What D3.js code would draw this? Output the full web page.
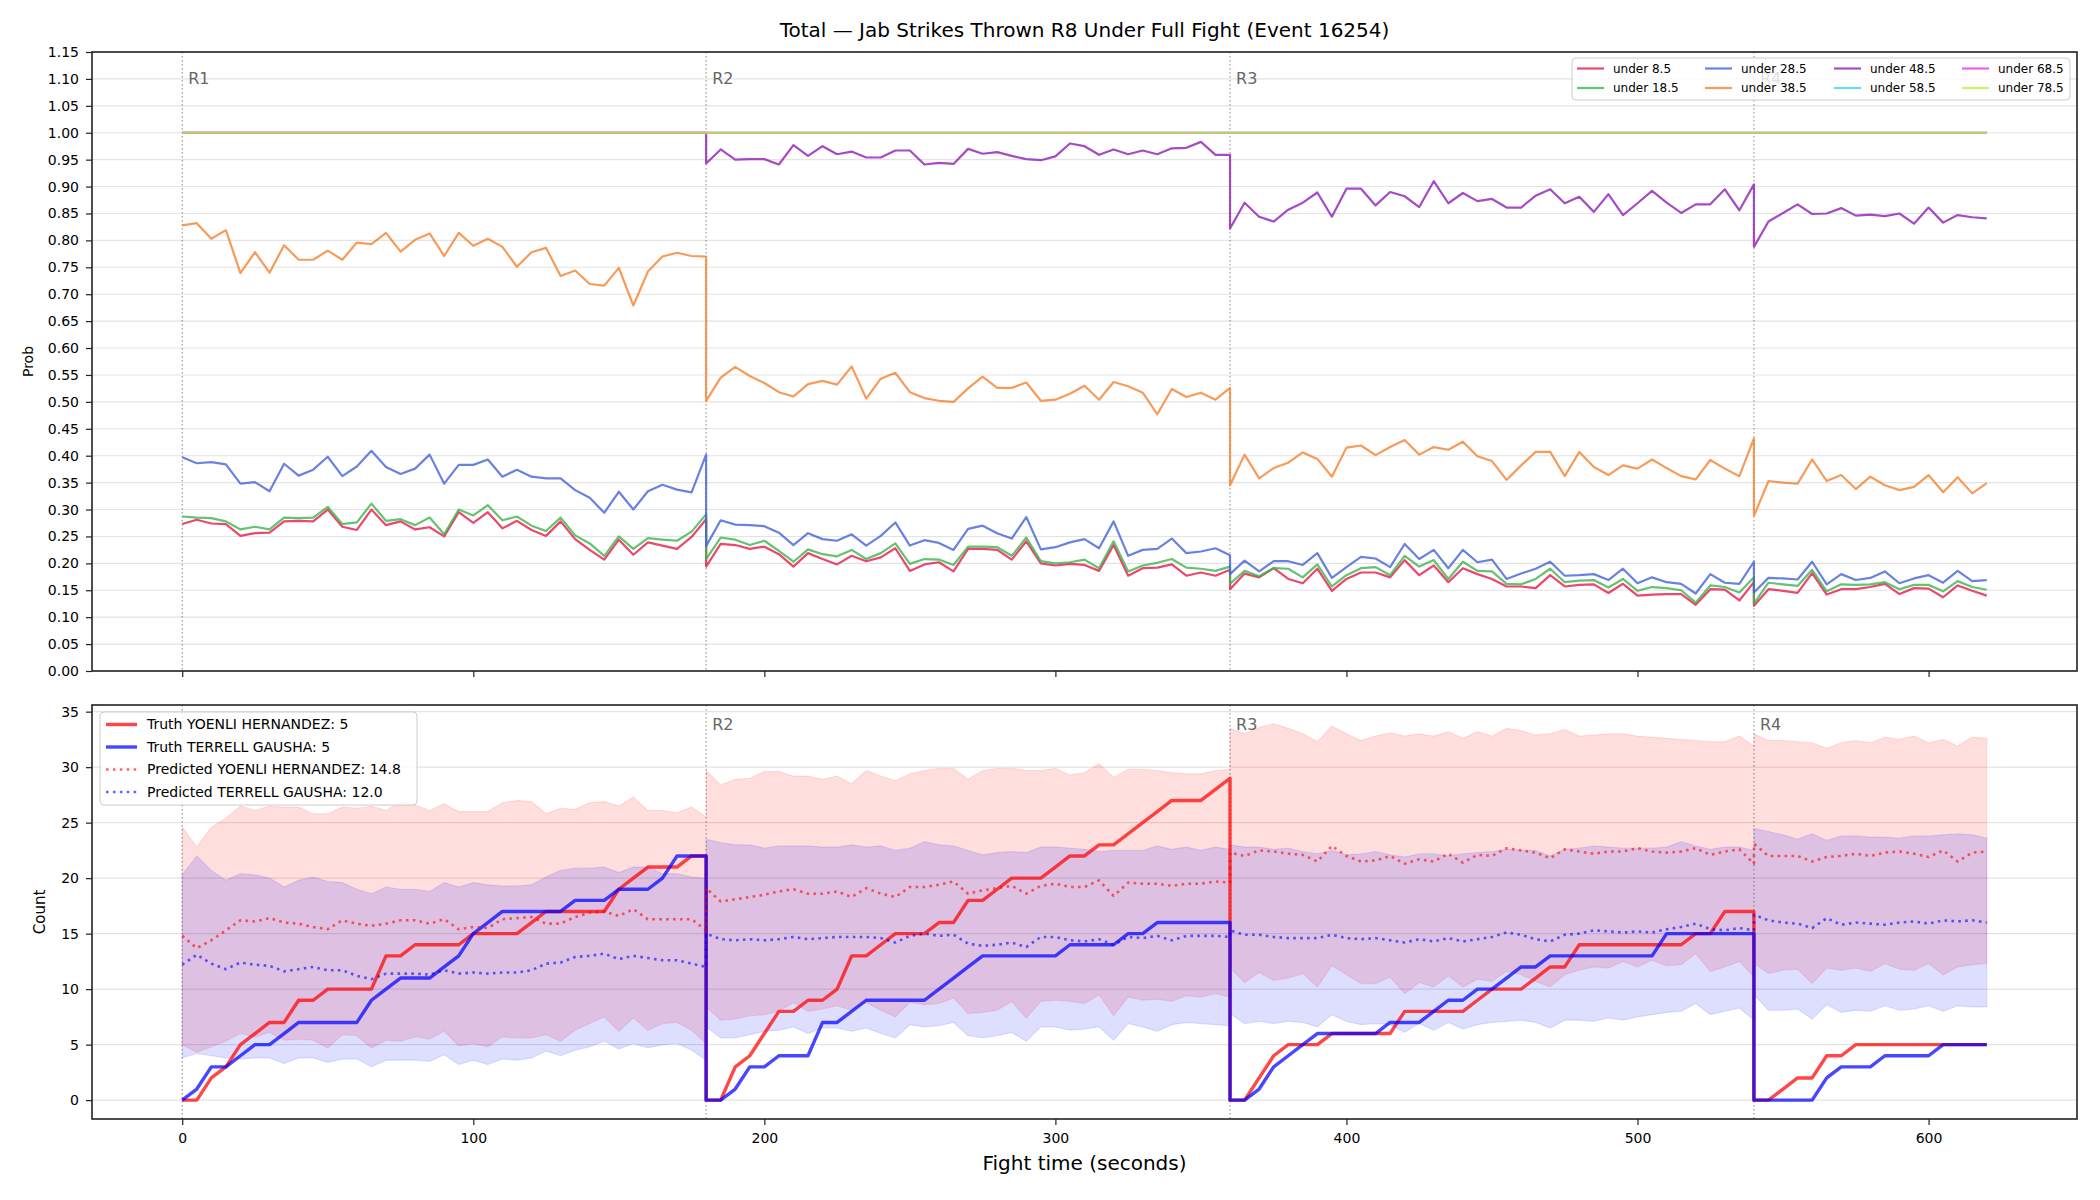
<!DOCTYPE html>
<html>
<head>
<meta charset="utf-8">
<script src="https://cdn.jsdelivr.net/npm/d3@7"></script>
<style>
  body { margin: 0; background: #fff; }
  svg { font-family: "DejaVu Sans", sans-serif; }
</style>
</head>
<body>
<div id="chart"></div>
<script>
// ---- data (one value every 5 s, each round start..end inclusive) ----
const rounds = [
  { label: "R1", start: 0, end: 180 },
  { label: "R2", start: 180, end: 360 },
  { label: "R3", start: 360, end: 540 },
  { label: "R4", start: 540, end: 620 }
];

const under8 = [
  0.273,0.281,0.274,0.273,0.251,0.256,0.257,0.278,0.279,0.278,0.300,0.268,0.262,0.300,0.271,0.278,0.263,0.267,0.250,0.295,0.275,0.295,0.265,0.279,0.262,0.251,0.278,0.245,0.225,0.207,0.244,0.216,0.239,0.233,0.227,0.249,0.282,
  0.194,0.236,0.234,0.227,0.231,0.217,0.194,0.219,0.208,0.198,0.214,0.204,0.211,0.228,0.186,0.198,0.202,0.185,0.227,0.227,0.225,0.207,0.241,0.200,0.196,0.199,0.197,0.186,0.234,0.177,0.191,0.192,0.198,0.177,0.183,0.177,0.188,
  0.152,0.181,0.174,0.191,0.171,0.163,0.190,0.149,0.171,0.183,0.183,0.174,0.206,0.178,0.196,0.165,0.191,0.180,0.171,0.157,0.157,0.154,0.178,0.157,0.160,0.161,0.145,0.162,0.140,0.142,0.143,0.143,0.123,0.152,0.151,0.131,0.165,
  0.121,0.152,0.149,0.145,0.182,0.142,0.152,0.152,0.156,0.162,0.143,0.154,0.153,0.137,0.159,0.149,0.140
];
const under18 = [
  0.287,0.285,0.284,0.278,0.263,0.268,0.263,0.285,0.284,0.285,0.305,0.273,0.276,0.311,0.279,0.282,0.271,0.285,0.254,0.300,0.289,0.308,0.280,0.287,0.270,0.260,0.285,0.252,0.237,0.214,0.250,0.227,0.247,0.244,0.242,0.259,0.291,
  0.208,0.248,0.244,0.234,0.242,0.223,0.203,0.226,0.217,0.213,0.225,0.208,0.219,0.237,0.199,0.208,0.207,0.197,0.231,0.231,0.230,0.214,0.248,0.204,0.200,0.202,0.207,0.191,0.241,0.185,0.196,0.201,0.208,0.192,0.190,0.186,0.194,
  0.162,0.186,0.176,0.191,0.190,0.174,0.198,0.157,0.178,0.191,0.193,0.178,0.214,0.194,0.206,0.171,0.203,0.186,0.185,0.162,0.161,0.171,0.190,0.165,0.168,0.169,0.155,0.171,0.149,0.156,0.154,0.150,0.127,0.159,0.156,0.146,0.174,
  0.125,0.164,0.161,0.158,0.188,0.148,0.161,0.160,0.161,0.165,0.152,0.160,0.160,0.148,0.167,0.156,0.151
];
const under28 = [
  0.397,0.386,0.388,0.384,0.348,0.351,0.334,0.385,0.363,0.374,0.398,0.362,0.380,0.409,0.379,0.366,0.376,0.402,0.348,0.383,0.383,0.393,0.361,0.374,0.361,0.358,0.358,0.336,0.322,0.294,0.333,0.300,0.334,0.346,0.337,0.332,0.402,
  0.232,0.280,0.272,0.271,0.269,0.257,0.234,0.256,0.245,0.242,0.254,0.233,0.251,0.276,0.233,0.243,0.238,0.225,0.264,0.270,0.256,0.246,0.286,0.226,0.230,0.239,0.245,0.228,0.278,0.214,0.225,0.227,0.246,0.219,0.222,0.228,0.215,
  0.180,0.205,0.185,0.204,0.204,0.197,0.219,0.173,0.193,0.212,0.209,0.193,0.236,0.208,0.225,0.191,0.225,0.202,0.207,0.171,0.181,0.190,0.203,0.177,0.178,0.180,0.169,0.190,0.163,0.174,0.165,0.162,0.144,0.180,0.164,0.162,0.203,
  0.146,0.173,0.172,0.170,0.203,0.161,0.180,0.169,0.173,0.185,0.163,0.172,0.178,0.164,0.186,0.167,0.169
];
const under38 = [
  0.828,0.832,0.803,0.819,0.739,0.778,0.740,0.791,0.764,0.764,0.781,0.764,0.796,0.793,0.814,0.779,0.801,0.813,0.771,0.814,0.790,0.803,0.788,0.751,0.778,0.786,0.734,0.744,0.719,0.716,0.749,0.679,0.742,0.770,0.777,0.771,0.770,
  0.502,0.545,0.565,0.548,0.535,0.518,0.510,0.533,0.539,0.532,0.566,0.506,0.543,0.554,0.518,0.507,0.502,0.500,0.525,0.547,0.526,0.526,0.536,0.502,0.504,0.515,0.530,0.504,0.537,0.529,0.517,0.477,0.524,0.509,0.517,0.504,0.526,
  0.345,0.402,0.358,0.377,0.387,0.406,0.394,0.361,0.415,0.419,0.401,0.416,0.429,0.402,0.416,0.411,0.426,0.399,0.390,0.355,0.382,0.407,0.407,0.362,0.407,0.379,0.364,0.382,0.376,0.393,0.377,0.362,0.356,0.392,0.376,0.362,0.432,
  0.288,0.353,0.350,0.348,0.393,0.353,0.364,0.338,0.361,0.345,0.336,0.342,0.364,0.332,0.360,0.330,0.349
];
const under48 = [
  1,1,1,1,1,1,1,1,1,1,1,1,1,1,1,1,1,1,1,1,1,1,1,1,1,1,1,1,1,1,1,1,1,1,1,1,1,
  0.943,0.969,0.950,0.951,0.951,0.941,0.977,0.957,0.975,0.960,0.965,0.954,0.954,0.967,0.967,0.941,0.944,0.942,0.970,0.961,0.964,0.957,0.951,0.949,0.956,0.980,0.975,0.959,0.969,0.960,0.967,0.960,0.971,0.972,0.983,0.959,0.959,
  0.822,0.870,0.844,0.835,0.857,0.870,0.889,0.844,0.896,0.896,0.865,0.890,0.882,0.862,0.910,0.869,0.888,0.873,0.877,0.861,0.861,0.883,0.895,0.869,0.881,0.853,0.886,0.847,0.869,0.892,0.870,0.851,0.867,0.867,0.895,0.856,0.904,
  0.788,0.835,0.851,0.867,0.849,0.850,0.860,0.846,0.848,0.845,0.850,0.831,0.861,0.833,0.847,0.843,0.841
];
// 58.5, 68.5 and 78.5 sit at 1.0 for the whole fight
const probSaturated = [
  1,1,1,1,1,1,1,1,1,1,1,1,1,1,1,1,1,1,1,1,1,1,1,1,1,1,1,1,1,1,1,1,1,1,1,1,1,
  1,1,1,1,1,1,1,1,1,1,1,1,1,1,1,1,1,1,1,1,1,1,1,1,1,1,1,1,1,1,1,1,1,1,1,1,1,
  1,1,1,1,1,1,1,1,1,1,1,1,1,1,1,1,1,1,1,1,1,1,1,1,1,1,1,1,1,1,1,1,1,1,1,1,1,
  1,1,1,1,1,1,1,1,1,1,1,1,1,1,1,1,1
];
const under58 = probSaturated;
const under68 = probSaturated;
const under78 = probSaturated;

const probLabels = ["under 8.5", "under 18.5", "under 28.5", "under 38.5", "under 48.5", "under 58.5", "under 68.5", "under 78.5"];
const probColors = ["#e6194b", "#3cb44b", "#4363d8", "#f58231", "#911eb4", "#42d4f4", "#f032e6", "#bfef45"];

const truthRed = [
  0,0,2,3,5,6,7,7,9,9,10,10,10,10,13,13,14,14,14,14,15,15,15,15,16,17,17,17,17,17,19,20,21,21,21,22,22,
  0,0,3,4,6,8,8,9,9,10,13,13,14,15,15,15,16,16,18,18,19,20,20,20,21,22,22,23,23,24,25,26,27,27,27,28,29,
  0,0,2,4,5,5,5,6,6,6,6,6,8,8,8,8,8,9,10,10,10,11,12,12,14,14,14,14,14,14,14,14,15,15,17,17,17,
  0,0,1,2,2,4,4,5,5,5,5,5,5,5,5,5,5
];
const truthBlue = [
  0,1,3,3,4,5,5,6,7,7,7,7,7,9,10,11,11,11,12,13,15,16,17,17,17,17,17,18,18,18,19,19,19,20,22,22,22,
  0,0,1,3,3,4,4,4,7,7,8,9,9,9,9,9,10,11,12,13,13,13,13,13,13,14,14,14,14,15,15,16,16,16,16,16,16,
  0,0,1,3,4,5,6,6,6,6,6,7,7,7,8,9,9,10,10,11,12,12,13,13,13,13,13,13,13,13,15,15,15,15,15,15,15,
  0,0,0,0,0,2,3,3,3,4,4,4,4,5,5,5,5
];
const predRed = [
  14.8,13.7,14.4,15.3,16.2,16.1,16.4,16.0,15.9,15.6,15.4,16.2,15.9,15.7,15.9,16.2,16.2,15.9,16.3,15.4,15.6,15.5,16.3,16.4,16.5,15.9,15.9,16.5,16.9,17.0,16.6,17.2,16.3,16.3,16.3,16.3,15.3,
  19.1,17.9,18.1,18.3,18.5,18.8,19.0,18.6,18.6,18.8,18.3,19.1,18.6,18.3,19.2,19.2,19.4,19.7,18.6,18.9,19.1,19.3,18.6,19.3,19.5,19.2,19.2,19.8,18.4,19.6,19.5,19.5,19.3,19.5,19.5,19.7,19.6,
  22.3,22.0,22.5,22.4,22.2,22.1,21.5,22.9,22.0,21.5,21.6,22.0,21.3,21.7,21.5,22.2,21.4,22.1,22.0,22.7,22.5,22.3,21.8,22.6,22.4,22.2,22.4,22.4,22.7,22.4,22.3,22.4,22.7,22.1,22.4,22.6,21.3,
  23.1,22.0,22.0,22.0,21.5,21.9,22.0,22.2,22.0,22.3,22.4,22.2,21.9,22.5,21.5,22.3,22.4
];
const predBlue = [
  12.2,13.1,12.3,11.8,12.4,12.2,12.1,11.6,11.8,12.0,11.7,11.7,11.2,10.9,11.4,11.4,11.4,11.3,11.7,11.4,11.5,11.4,11.5,11.5,11.7,12.3,12.4,12.9,13.0,13.2,12.7,13.0,12.8,12.6,12.6,12.3,12.0,
  15.0,14.5,14.4,14.5,14.4,14.5,14.7,14.5,14.6,14.7,14.7,14.7,14.6,14.2,14.8,15.0,14.8,14.9,14.1,13.9,14.0,14.2,13.8,14.7,14.7,14.4,14.3,14.5,14.0,14.7,14.6,14.8,14.4,14.8,14.8,14.8,14.7,
  15.3,14.9,14.9,14.7,14.6,14.6,14.6,14.9,14.6,14.5,14.6,14.4,14.2,14.5,14.3,14.6,14.3,14.5,14.7,15.1,14.9,14.5,14.3,14.9,15.0,15.3,15.2,15.1,15.2,15.1,15.4,15.6,15.9,15.4,15.3,15.5,15.3,
  16.7,16.2,16.0,15.9,15.5,16.4,15.8,16.0,15.9,15.8,16.0,16.1,15.9,16.2,16.1,16.2,16.0
];
const redHi = [
  24.6,22.8,24.6,25.4,26.5,26.1,26.5,26.4,26.4,25.8,25.8,26.4,26.3,26.5,26.1,26.9,26.6,26.1,26.7,26.0,26.0,26.0,26.8,27.0,26.9,25.8,26.3,26.2,26.8,26.9,26.5,27.3,26.1,26.1,25.9,26.4,25.5,
  29.7,28.4,28.9,29.0,29.6,29.6,29.2,29.2,28.9,29.2,28.5,29.7,29.2,28.8,29.4,29.7,29.9,29.9,28.9,29.7,29.9,29.9,29.7,29.7,29.9,29.3,29.5,30.3,29.1,29.8,29.8,29.7,29.5,29.4,29.4,29.7,29.8,
  33.5,33.0,33.6,33.9,33.5,33.0,32.3,33.7,33.0,32.4,32.8,33.1,32.8,33.0,32.8,33.2,32.6,33.2,32.8,33.5,33.3,32.9,33.0,33.4,32.8,32.9,33.0,33.0,32.8,32.7,32.6,32.5,32.4,32.3,32.3,32.8,31.9,
  33.0,32.4,32.4,32.3,32.2,31.7,32.2,32.4,32.2,32.7,32.5,32.8,32.2,32.5,31.9,32.7,32.6
];
const redLo = [
  5.0,4.3,4.8,5.3,6.0,5.7,6.1,5.4,5.5,5.4,4.7,5.9,5.8,4.7,5.4,5.3,5.7,5.5,6.2,4.9,5.1,4.8,5.7,5.6,5.6,5.9,5.3,6.3,6.9,7.5,6.2,7.4,6.3,6.9,7.0,6.3,5.1,
  8.4,7.2,7.3,7.6,7.7,8.0,8.8,8.0,8.2,8.5,8.1,8.8,8.1,7.5,8.8,8.6,8.7,9.2,7.8,7.9,8.1,8.9,7.4,8.9,9.0,8.9,8.7,9.5,7.6,9.3,9.0,9.1,8.9,9.4,9.3,9.6,9.3,
  11.9,10.6,11.5,10.8,11.0,11.4,10.2,12.1,11.3,10.5,10.5,11.1,9.6,10.6,10.2,11.2,10.2,10.9,10.7,11.6,11.3,10.7,10.2,11.3,11.7,12.0,11.9,12.5,12.0,12.6,12.1,12.2,13.2,11.6,12.0,12.5,11.1,
  12.3,11.4,11.7,11.8,10.5,11.9,11.7,11.9,11.6,12.3,11.8,11.7,12.3,11.3,12.0,12.2,12.3
];
const blueHi = [
  20.3,22.0,20.7,19.8,20.4,20.3,20.0,19.2,19.8,20.1,19.7,19.6,19.0,18.6,19.2,19.0,19.0,18.8,19.6,19.2,19.6,19.4,19.3,19.3,19.4,20.1,20.7,20.9,20.9,21.0,20.5,21.0,21.0,20.4,20.4,20.1,20.0,
  23.5,23.2,23.0,23.0,22.7,22.9,22.9,22.9,22.8,22.8,23.0,22.8,22.9,22.5,22.7,23.3,23.0,22.9,22.5,22.1,22.3,22.4,22.3,22.8,22.8,22.7,22.6,22.4,22.5,22.5,22.5,22.9,22.6,22.8,22.5,22.8,22.6,
  23.0,22.8,22.8,22.6,22.7,22.4,22.2,22.5,22.1,22.2,22.4,22.1,21.9,22.2,22.2,22.0,22.2,22.3,22.4,22.6,22.5,22.5,22.0,22.6,22.7,22.9,22.8,22.7,22.7,22.7,22.8,23.3,22.9,22.6,22.8,22.8,22.5,
  24.5,24.2,23.9,23.5,24.0,23.4,23.8,23.8,23.7,23.7,23.6,23.8,23.8,23.9,24.0,23.9,23.6
];
const blueLo = [
  3.8,4.2,4.0,3.8,3.7,3.8,3.8,3.3,3.8,3.8,3.4,3.7,3.7,3.0,3.6,3.6,3.6,3.5,4.1,3.2,3.6,3.2,3.7,3.6,3.8,4.4,4.0,4.5,4.8,5.3,4.6,5.1,4.7,5.0,5.1,4.5,3.6,
  6.6,5.6,5.6,5.9,6.2,6.3,6.6,6.0,6.5,6.5,6.2,6.5,6.0,5.6,6.8,6.6,6.7,7.0,5.8,5.6,5.8,6.1,5.3,6.6,6.6,6.3,6.4,6.6,5.4,6.9,6.6,6.2,6.8,7.0,6.9,6.8,6.7,
  7.8,6.9,7.1,6.9,7.1,7.0,6.6,7.7,7.1,6.8,6.9,6.8,6.1,6.9,6.3,7.0,6.4,6.8,7.0,7.1,7.2,7.0,6.5,7.2,7.2,7.1,7.4,7.2,7.5,7.7,7.9,8.0,8.7,7.7,8.0,8.3,7.2,
  9.5,8.1,8.1,8.2,7.3,8.6,7.9,8.1,8.0,8.5,8.1,8.2,8.5,8.0,8.5,8.4,8.4
];

const countLegend = [
  { label: "Truth YOENLI HERNANDEZ: 5", color: "#ff0000", dotted: false },
  { label: "Truth TERRELL GAUSHA: 5", color: "#0000ff", dotted: false },
  { label: "Predicted YOENLI HERNANDEZ: 14.8", color: "#ff0000", dotted: true },
  { label: "Predicted TERRELL GAUSHA: 12.0", color: "#0000ff", dotted: true }
];

// ---- layout ----
const svgWidth = 2100;
const svgHeight = 1200;
const margin = { left: 92, right: 23 };
const width = svgWidth - margin.left - margin.right;
const topBox = { y0: 52, y1: 671 };
const botBox = { y0: 705, y1: 1119 };

// time of each sample: 5 s grid inside each round
const times = rounds.flatMap(r => d3.range(r.start, r.end + 1, 5));

const svg = d3.select("#chart").append("svg")
  .attr("width", svgWidth)
  .attr("height", svgHeight);

const xScale = d3.scaleLinear().domain([-31, 651]).range([margin.left, margin.left + width]);
const yProb = d3.scaleLinear().domain([0, 1.15]).range([topBox.y1, topBox.y0]);
const yCount = d3.scaleLinear().domain([-1.7, 35.6]).range([botBox.y1, botBox.y0]);

const xTicks = [0, 100, 200, 300, 400, 500, 600];

function drawGrid(yScale, ticks) {
  svg.append("g")
    .selectAll("line")
    .data(ticks)
    .enter()
    .append("line")
    .attr("x1", margin.left)
    .attr("x2", margin.left + width)
    .attr("y1", d => yScale(d))
    .attr("y2", d => yScale(d))
    .attr("stroke", "#e3e3e3")
    .attr("stroke-width", 1.1);
}

function drawAxes(yScale, box, ticks, fmt, showX) {
  const leftAxis = d3.axisLeft(yScale).tickValues(ticks).tickFormat(fmt).tickSize(6).tickPadding(7);
  const gy = svg.append("g")
    .attr("transform", `translate(${margin.left},0)`)
    .call(leftAxis);
  gy.select(".domain").remove();
  gy.selectAll("text").attr("font-size", "14px").attr("fill", "#000").attr("font-family", "DejaVu Sans");
  gy.selectAll("line").attr("stroke", "#222").attr("stroke-width", 1.2);

  const bottomAxis = d3.axisBottom(xScale).tickValues(xTicks).tickSize(6).tickPadding(8);
  if (!showX) bottomAxis.tickFormat("");
  const gx = svg.append("g")
    .attr("transform", `translate(0,${box.y1})`)
    .call(bottomAxis);
  gx.select(".domain").remove();
  gx.selectAll("text").attr("font-size", "14px").attr("fill", "#000").attr("font-family", "DejaVu Sans");
  gx.selectAll("line").attr("stroke", "#222").attr("stroke-width", 1.2);

  svg.append("rect")
    .attr("x", margin.left)
    .attr("y", box.y0)
    .attr("width", width)
    .attr("height", box.y1 - box.y0)
    .attr("fill", "none")
    .attr("stroke", "#222")
    .attr("stroke-width", 1.6);
}

function drawRoundMarks(box, labels, labelY) {
  const g = svg.append("g");
  g.selectAll("line")
    .data(rounds)
    .enter()
    .append("line")
    .attr("x1", d => xScale(d.start))
    .attr("x2", d => xScale(d.start))
    .attr("y1", box.y0)
    .attr("y2", box.y1)
    .attr("stroke", "#555")
    .attr("stroke-opacity", 0.7)
    .attr("stroke-width", 1)
    .attr("stroke-dasharray", "1.5,2.5");
  g.selectAll("text")
    .data(rounds.filter(r => labels.includes(r.label)))
    .enter()
    .append("text")
    .attr("x", d => xScale(d.start) + 6)
    .attr("y", labelY)
    .attr("font-size", "16px")
    .attr("fill", "#666")
    .text(d => d.label);
}

const lineGen = (yScale) => d3.line()
  .x((d, i) => xScale(times[i]))
  .y(d => yScale(d));

// ================= top panel: probabilities =================
const probTicks = d3.range(0, 24).map(i => i * 0.05);
drawGrid(yProb, probTicks);
drawRoundMarks(topBox, ["R1", "R2", "R3", "R4"], 84);

const probSeries = [under8, under18, under28, under38, under48, under58, under68, under78];
svg.append("g")
  .selectAll("path")
  .data(probSeries)
  .enter()
  .append("path")
  .attr("d", d => lineGen(yProb)(d))
  .attr("fill", "none")
  .attr("stroke", (d, i) => probColors[i])
  .attr("stroke-opacity", 0.8)
  .attr("stroke-width", 2.2)
  .attr("stroke-linejoin", "round");

drawAxes(yProb, topBox, probTicks, d3.format(".2f"), false);

// legend, 4 columns x 2 rows (column-major)
const probLegend = svg.append("g");
probLegend.append("rect")
  .attr("x", 1572).attr("y", 58).attr("width", 498).attr("height", 42)
  .attr("rx", 4)
  .attr("fill", "#fff").attr("fill-opacity", 0.8)
  .attr("stroke", "#ccc").attr("stroke-width", 1);
const colX = [1577, 1705, 1834, 1962];
const rowY = [68.5, 88];
probLabels.forEach((lab, i) => {
  const cx = colX[Math.floor(i / 2)];
  const cy = rowY[i % 2];
  probLegend.append("line")
    .attr("x1", cx).attr("x2", cx + 27)
    .attr("y1", cy).attr("y2", cy)
    .attr("stroke", probColors[i]).attr("stroke-opacity", 0.8).attr("stroke-width", 2.2);
  probLegend.append("text")
    .attr("x", cx + 36).attr("y", cy).attr("dy", "0.35em")
    .attr("font-size", "12px").attr("fill", "#000")
    .text(lab);
});

// ================= bottom panel: counts =================
const countTicks = [0, 5, 10, 15, 20, 25, 30, 35];
drawGrid(yCount, countTicks);

const bandArea = (lo, hi) => d3.area()
  .x((d, i) => xScale(times[i]))
  .y0((d, i) => yCount(lo[i]))
  .y1((d, i) => yCount(hi[i]));

const bands = [
  { lo: redLo, hi: redHi, color: "#ff0000" },
  { lo: blueLo, hi: blueHi, color: "#0000ff" }
];
svg.append("g")
  .selectAll("path")
  .data(bands)
  .enter()
  .append("path")
  .attr("d", d => bandArea(d.lo, d.hi)(d.lo))
  .attr("fill", d => d.color)
  .attr("fill-opacity", 0.13)
  .attr("stroke", d => d.color)
  .attr("stroke-opacity", 0.1)
  .attr("stroke-width", 1.2);

// R1 label sits under the legend in this panel
drawRoundMarks(botBox, ["R2", "R3", "R4"], 730);

const countLines = [
  { values: truthRed, color: "#ff0000", dotted: false },
  { values: truthBlue, color: "#0000ff", dotted: false },
  { values: predRed, color: "#ff0000", dotted: true },
  { values: predBlue, color: "#0000ff", dotted: true }
];
svg.append("g")
  .selectAll("path")
  .data(countLines)
  .enter()
  .append("path")
  .attr("d", d => lineGen(yCount)(d.values))
  .attr("fill", "none")
  .attr("stroke", d => d.color)
  .attr("stroke-opacity", d => d.dotted ? 0.6 : 0.72)
  .attr("stroke-width", d => d.dotted ? 2.6 : 3.4)
  .attr("stroke-dasharray", d => d.dotted ? "2.6,4.3" : null)
  .attr("stroke-linejoin", "round");

drawAxes(yCount, botBox, countTicks, d3.format("d"), true);

// legend upper left
const countLeg = svg.append("g");
countLeg.append("rect")
  .attr("x", 100).attr("y", 712).attr("width", 317).attr("height", 93)
  .attr("rx", 4)
  .attr("fill", "#fff").attr("fill-opacity", 0.8)
  .attr("stroke", "#ccc").attr("stroke-width", 1);
const legRows = [724.5, 747, 769.5, 792];
countLegend.forEach((d, i) => {
  countLeg.append("line")
    .attr("x1", 106).attr("x2", 137)
    .attr("y1", legRows[i]).attr("y2", legRows[i])
    .attr("stroke", d.color)
    .attr("stroke-opacity", d.dotted ? 0.6 : 0.72)
    .attr("stroke-width", d.dotted ? 2.6 : 3.4)
    .attr("stroke-dasharray", d.dotted ? "2.6,4.3" : null);
  countLeg.append("text")
    .attr("x", 147).attr("y", legRows[i]).attr("dy", "0.35em")
    .attr("font-size", "14px").attr("fill", "#000")
    .text(d.label);
});

// ---- titles and axis labels ----
svg.append("text")
  .attr("x", margin.left + width / 2).attr("y", 37)
  .attr("text-anchor", "middle")
  .attr("font-size", "20px")
  .text("Total \u2014 Jab Strikes Thrown R8 Under Full Fight (Event 16254)");

svg.append("text")
  .attr("transform", `translate(28,${(topBox.y0 + topBox.y1) / 2}) rotate(-90)`)
  .attr("text-anchor", "middle").attr("dy", "0.35em")
  .attr("font-size", "14px")
  .text("Prob");

svg.append("text")
  .attr("transform", `translate(40,${(botBox.y0 + botBox.y1) / 2}) rotate(-90)`)
  .attr("text-anchor", "middle").attr("dy", "0.35em")
  .attr("font-size", "15px")
  .text("Count");

svg.append("text")
  .attr("x", margin.left + width / 2).attr("y", 1170)
  .attr("text-anchor", "middle")
  .attr("font-size", "20px")
  .text("Fight time (seconds)");
</script>
</body>
</html>
